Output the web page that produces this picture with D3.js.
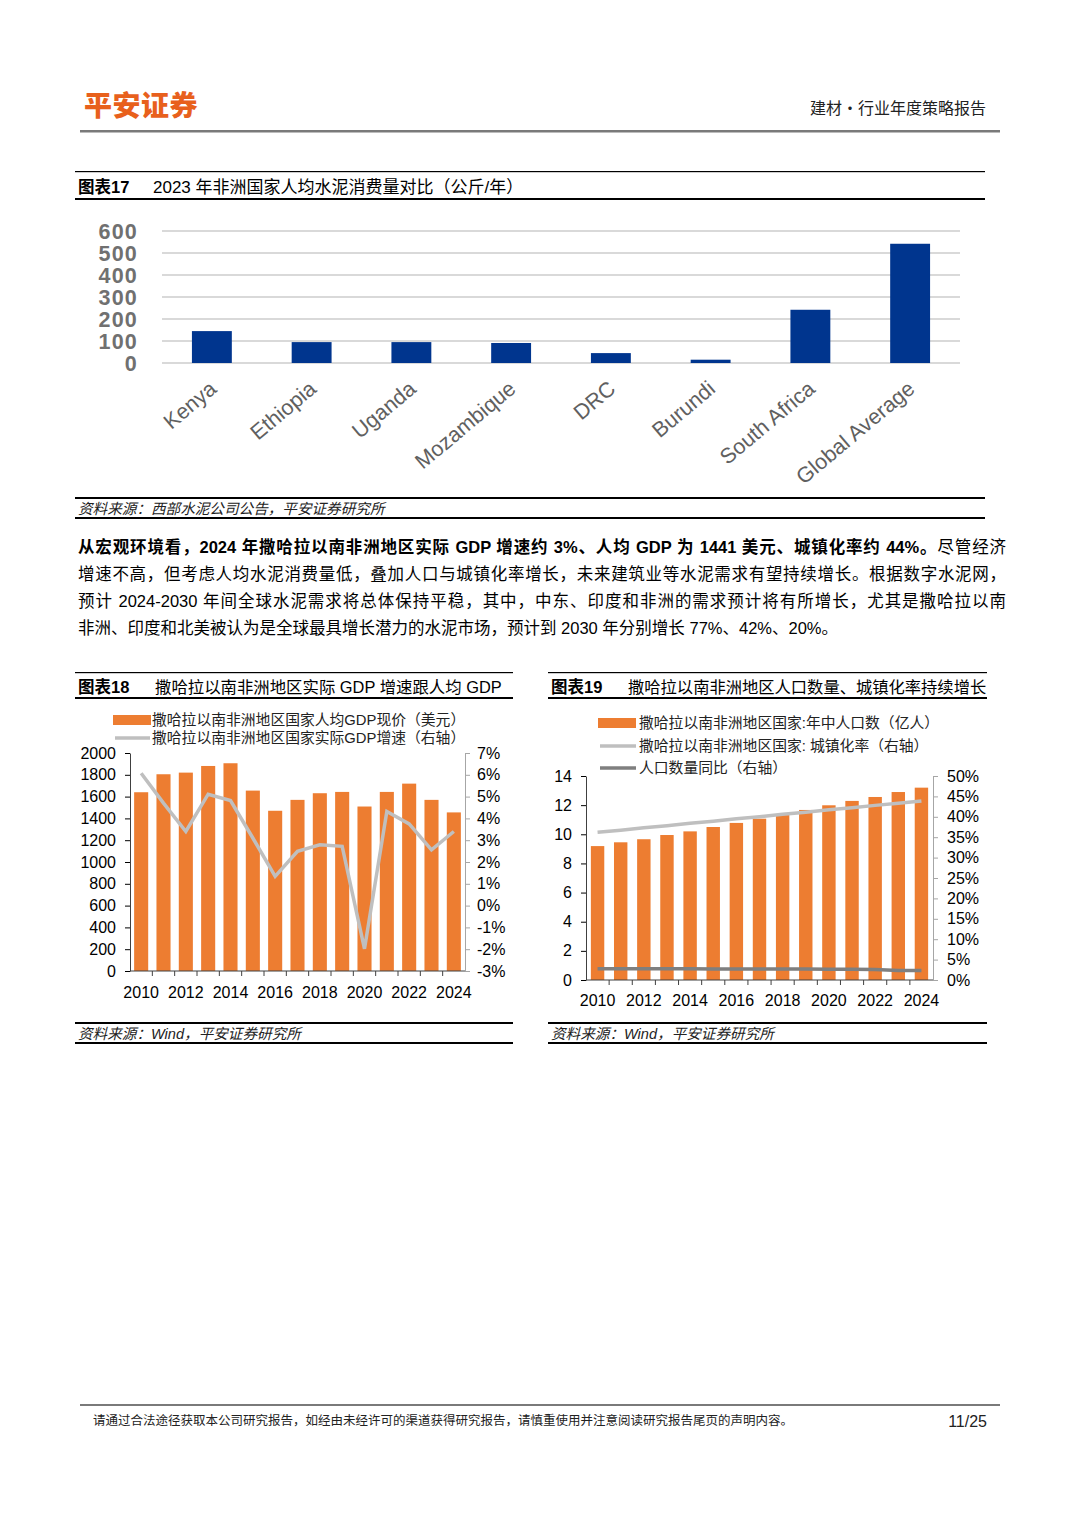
<!DOCTYPE html>
<html><head><meta charset="utf-8">
<script src="https://cdn.jsdelivr.net/npm/d3@7"></script>
<style>
html,body{margin:0;padding:0;background:#fff;}
body{width:1080px;height:1527px;position:relative;overflow:hidden;}
svg{position:absolute;left:0;top:0;}
.para{position:absolute;left:78px;width:928px;font-family:"Liberation Sans","Noto Sans CJK SC",sans-serif;font-size:16.5px;color:#000;text-align:justify;text-align-last:justify;white-space:nowrap;line-height:20px;}
.para.last{text-align-last:left;}
.para b{font-weight:bold;}
</style></head>
<body>
<div id="paras"></div>
<script>
// ---------- data ----------
const cats17 = ["Kenya","Ethiopia","Uganda","Mozambique","DRC","Burundi","South Africa","Global Average"];
const vals17 = [145, 95, 95, 91, 45, 15, 242, 542];
const ticks17 = [0,100,200,300,400,500,600];

const years = ["2010","2011","2012","2013","2014","2015","2016","2017","2018","2019","2020","2021","2022","2023","2024"];
const yearLabels = ["2010","2012","2014","2016","2018","2020","2022","2024"];
const gdpPerCap = [1640,1805,1820,1881,1906,1655,1470,1570,1631,1643,1509,1643,1719,1570,1455];
const gdpGrowth = [6.07,4.7,3.4,5.11,4.82,3.1,1.34,2.49,2.79,2.72,-1.98,4.32,3.75,2.56,3.4];
const ticks18L = [0,200,400,600,800,1000,1200,1400,1600,1800,2000];
const ticks18R = [-3,-2,-1,0,1,2,3,4,5,6,7];

const population = [9.19,9.45,9.66,9.95,10.2,10.5,10.78,11.07,11.35,11.67,11.99,12.29,12.56,12.9,13.2];
const urbanRate = [36.2,36.7,37.3,37.8,38.4,38.9,39.5,40.0,40.6,41.1,41.7,42.2,42.8,43.3,43.9];
const popYoY = [2.75,2.75,2.75,2.74,2.73,2.72,2.71,2.7,2.69,2.68,2.66,2.64,2.6,2.35,2.3];
const ticks19L = [0,2,4,6,8,10,12,14];
const ticks19R = [0,5,10,15,20,25,30,35,40,45,50];

const CN = '"Liberation Sans","Noto Sans CJK SC",sans-serif';
const ORANGE = "#ED7D31", NAVY = "#00358E";

const svg = d3.select("body").append("svg").attr("width",1080).attr("height",1527);

// ---------- header ----------
svg.append("text").attr("x",84).attr("y",116).attr("font-family",'"Noto Sans CJK SC",sans-serif')
  .attr("font-weight","900").attr("font-size",28).attr("letter-spacing",0.5).attr("fill","#E8601C").text("平安证券");
svg.append("text").attr("x",986).attr("y",114).attr("text-anchor","end").attr("font-family",'"Noto Sans CJK SC",sans-serif')
  .attr("font-size",16).attr("fill","#222").text("建材·行业年度策略报告");
svg.append("rect").attr("x",80).attr("y",130).attr("width",920).attr("height",2.5).attr("fill","#7a7a7a");

// helper for chart frame
function frame(x0,x1,yTop,yTitle,yHead,numLabel,title,titleX,tfs,ySrcTop,ySrcBot,src){
  svg.append("rect").attr("x",x0).attr("y",yTop).attr("width",x1-x0).attr("height",1.2).attr("fill","#000");
  svg.append("text").attr("x",x0+3).attr("y",yTitle).attr("font-family",CN).attr("font-size",16.5).attr("font-weight","bold").text(numLabel);
  svg.append("text").attr("x",titleX).attr("y",yTitle).attr("font-family",CN).attr("font-size",tfs).text(title);
  svg.append("rect").attr("x",x0).attr("y",yHead).attr("width",x1-x0).attr("height",2).attr("fill","#000");
  svg.append("rect").attr("x",x0).attr("y",ySrcTop).attr("width",x1-x0).attr("height",2).attr("fill","#000");
  svg.append("text").attr("x",x0+3).attr("y",ySrcTop+17).attr("font-family",CN).attr("font-size",14.6)
    .attr("font-style","italic").attr("fill","#222").text(src);
  svg.append("rect").attr("x",x0).attr("y",ySrcBot).attr("width",x1-x0).attr("height",2).attr("fill","#000");
}

// ---------- chart 17 ----------
frame(75,985,171,193,198,"图表17","2023 年非洲国家人均水泥消费量对比（公斤/年）",153,17,497,517,"资料来源：西部水泥公司公告，平安证券研究所");
{
  const x = d3.scaleBand().domain(cats17).range([162,960]).paddingInner(0.6).paddingOuter(0.3);
  const y = d3.scaleLinear().domain([0,600]).range([363,231]);
  const g = svg.append("g");
  g.selectAll("line.grid").data(ticks17).join("line").attr("x1",162).attr("x2",960)
    .attr("y1",d=>y(d)).attr("y2",d=>y(d)).attr("stroke","#d9d9d9").attr("stroke-width",2);
  g.selectAll("text.yt").data(ticks17).join("text").attr("x",138).attr("y",d=>y(d)+7.5)
    .attr("text-anchor","end").attr("font-family",CN).attr("font-weight","bold").attr("font-size",21.5)
    .attr("letter-spacing",1.2).attr("fill","#707070").text(d=>d);
  g.selectAll("rect.bar").data(vals17).join("rect")
    .attr("x",(d,i)=>x(cats17[i])).attr("width",x.bandwidth())
    .attr("y",d=>y(d)).attr("height",d=>y(0)-y(d)).attr("fill",NAVY);
  g.selectAll("text.xl").data(cats17).join("text")
    .attr("transform",d=>`translate(${x(d)+x.bandwidth()/2+6},${391}) rotate(-40)`)
    .attr("text-anchor","end").attr("font-family",CN).attr("font-size",21.5).attr("fill","#606060").text(d=>d);
}

// ---------- paragraph ----------
const paraLines = [
  ['<b>从宏观环境看，2024 年撒哈拉以南非洲地区实际 GDP 增速约 3%、人均 GDP 为 1441 美元、城镇化率约 44%。</b>尽管经济',552],
  ['增速不高，但考虑人均水泥消费量低，叠加人口与城镇化率增长，未来建筑业等水泥需求有望持续增长。根据数字水泥网，',579],
  ['预计 2024-2030 年间全球水泥需求将总体保持平稳，其中，中东、印度和非洲的需求预计将有所增长，尤其是撒哈拉以南',606],
  ['非洲、印度和北美被认为是全球最具增长潜力的水泥市场，预计到 2030 年分别增长 77%、42%、20%。',633]
];
d3.select("#paras").selectAll("div").data(paraLines).join("div")
  .attr("class",(d,i)=>i===paraLines.length-1?"para last":"para")
  .style("top",d=>(d[1]-15)+"px").html(d=>d[0]);

// ---------- chart 18 ----------
frame(75,513,672,693,697,"图表18","撒哈拉以南非洲地区实际 GDP 增速跟人均 GDP",155,16.4,1022,1042,"资料来源：Wind，平安证券研究所");
{
  const x = d3.scaleBand().domain(years).range([130,465]).paddingInner(0.37).paddingOuter(0.185);
  const yL = d3.scaleLinear().domain([0,2000]).range([971,753]);
  const yR = d3.scaleLinear().domain([-3,7]).range([971,753]);
  const g = svg.append("g");
  // legend
  g.append("rect").attr("x",113).attr("y",715).attr("width",38).attr("height",10).attr("fill",ORANGE);
  g.append("text").attr("x",152).attr("y",725).attr("font-family",CN).attr("font-size",14.8).attr("fill","#222").text("撒哈拉以南非洲地区国家人均GDP现价（美元）");
  g.append("line").attr("x1",115).attr("x2",150).attr("y1",738).attr("y2",738).attr("stroke","#BFBFBF").attr("stroke-width",3.5);
  g.append("text").attr("x",152).attr("y",743).attr("font-family",CN).attr("font-size",14.8).attr("fill","#222").text("撒哈拉以南非洲地区国家实际GDP增速（右轴）");
  // bars
  g.selectAll("rect.bar").data(gdpPerCap).join("rect")
    .attr("x",(d,i)=>x(years[i])).attr("width",x.bandwidth())
    .attr("y",d=>yL(d)).attr("height",d=>yL(0)-yL(d)).attr("fill",ORANGE);
  // line
  const line = d3.line().x((d,i)=>x(years[i])+x.bandwidth()/2).y(d=>yR(d));
  g.append("path").datum(gdpGrowth).attr("d",line).attr("fill","none").attr("stroke","#BFBFBF").attr("stroke-width",3.5).attr("stroke-linejoin","miter");
  // axes
  const aL = g.append("g").attr("transform","translate(130,0)")
    .call(d3.axisLeft(yL).tickValues(ticks18L).tickSize(5).tickSizeOuter(0).tickFormat(d3.format("d")));
  const aR = g.append("g").attr("transform","translate(465,0)")
    .call(d3.axisRight(yR).tickValues(ticks18R).tickSize(5).tickSizeOuter(0).tickFormat(d=>d+"%"));
  aR.select(".domain").attr("stroke","#a6a6a6");
  aR.selectAll(".tick line").attr("stroke","#a6a6a6");
  aL.select(".domain").attr("stroke","#404040");
  const xb = g.append("g").attr("transform","translate(0,971)");
  xb.append("line").attr("x1",130).attr("x2",465).attr("stroke","#404040");
  xb.selectAll("line.tk").data(years.slice(1)).join("line").attr("x1",d=>x(d)-x.step()*x.paddingInner()/2).attr("x2",d=>x(d)-x.step()*x.paddingInner()/2)
    .attr("y1",0).attr("y2",5).attr("stroke","#404040");
  xb.selectAll("text").data(yearLabels).join("text").attr("x",d=>x(d)+x.bandwidth()/2).attr("y",27)
    .attr("text-anchor","middle").attr("font-family",CN).attr("font-size",16).attr("fill","#000").text(d=>d);
  [aL,aR].forEach(a=>a.selectAll(".tick text").attr("font-family",CN).attr("font-size",16).attr("fill","#000"));
  aL.selectAll(".tick text").attr("x",-14);
  aR.selectAll(".tick text").attr("x",12);
}

// ---------- chart 19 ----------
frame(548,987,672,693,697,"图表19","撒哈拉以南非洲地区人口数量、城镇化率持续增长",628,16.3,1022,1042,"资料来源：Wind，平安证券研究所");
{
  const x = d3.scaleBand().domain(years).range([586,933]).paddingInner(0.42).paddingOuter(0.21);
  const yL = d3.scaleLinear().domain([0,14]).range([980,776]);
  const yR = d3.scaleLinear().domain([0,50]).range([980,776]);
  const g = svg.append("g");
  // legend
  g.append("rect").attr("x",598).attr("y",718).attr("width",38).attr("height",10).attr("fill",ORANGE);
  g.append("text").attr("x",639).attr("y",728).attr("font-family",CN).attr("font-size",14.8).attr("fill","#222").text("撒哈拉以南非洲地区国家:年中人口数（亿人）");
  g.append("line").attr("x1",600).attr("x2",636).attr("y1",746).attr("y2",746).attr("stroke","#BFBFBF").attr("stroke-width",3.5);
  g.append("text").attr("x",639).attr("y",751).attr("font-family",CN).attr("font-size",14.8).attr("fill","#222").text("撒哈拉以南非洲地区国家:  城镇化率（右轴）");
  g.append("line").attr("x1",600).attr("x2",636).attr("y1",768).attr("y2",768).attr("stroke","#7F7F7F").attr("stroke-width",3.5);
  g.append("text").attr("x",639).attr("y",773).attr("font-family",CN).attr("font-size",14.8).attr("fill","#222").text("人口数量同比（右轴）");
  // bars
  g.selectAll("rect.bar").data(population).join("rect")
    .attr("x",(d,i)=>x(years[i])).attr("width",x.bandwidth())
    .attr("y",d=>yL(d)).attr("height",d=>yL(0)-yL(d)).attr("fill",ORANGE);
  const line = d3.line().x((d,i)=>x(years[i])+x.bandwidth()/2).y(d=>yR(d));
  g.append("path").datum(urbanRate).attr("d",line).attr("fill","none").attr("stroke","#BFBFBF").attr("stroke-width",3.5);
  g.append("path").datum(popYoY).attr("d",line).attr("fill","none").attr("stroke","#7F7F7F").attr("stroke-width",3.5);
  const aL = g.append("g").attr("transform","translate(586,0)")
    .call(d3.axisLeft(yL).tickValues(ticks19L).tickSize(5).tickSizeOuter(0));
  const aR = g.append("g").attr("transform","translate(933,0)")
    .call(d3.axisRight(yR).tickValues(ticks19R).tickSize(5).tickSizeOuter(0).tickFormat(d=>d+"%"));
  aR.select(".domain").attr("stroke","#a6a6a6");
  aR.selectAll(".tick line").attr("stroke","#a6a6a6");
  aL.select(".domain").attr("stroke","#404040");
  const xb = g.append("g").attr("transform","translate(0,980)");
  xb.append("line").attr("x1",586).attr("x2",933).attr("stroke","#404040");
  xb.selectAll("line.tk").data(years.slice(1)).join("line").attr("x1",d=>x(d)-x.step()*x.paddingInner()/2).attr("x2",d=>x(d)-x.step()*x.paddingInner()/2)
    .attr("y1",0).attr("y2",5).attr("stroke","#404040");
  xb.selectAll("text").data(yearLabels).join("text").attr("x",d=>x(d)+x.bandwidth()/2).attr("y",26)
    .attr("text-anchor","middle").attr("font-family",CN).attr("font-size",16).attr("fill","#000").text(d=>d);
  [aL,aR].forEach(a=>a.selectAll(".tick text").attr("font-family",CN).attr("font-size",16).attr("fill","#000"));
  aL.selectAll(".tick text").attr("x",-14);
  aR.selectAll(".tick text").attr("x",14);
}

// ---------- footer ----------
svg.append("rect").attr("x",80).attr("y",1404).attr("width",920).attr("height",2).attr("fill","#7a7a7a");
svg.append("text").attr("x",93).attr("y",1425).attr("font-family",'"Noto Sans CJK SC",sans-serif').attr("font-size",12.5).attr("fill","#222")
  .text("请通过合法途径获取本公司研究报告，如经由未经许可的渠道获得研究报告，请慎重使用并注意阅读研究报告尾页的声明内容。");
svg.append("text").attr("x",987).attr("y",1427).attr("text-anchor","end").attr("font-family",CN).attr("font-size",16).attr("fill","#222").text("11/25");
</script>
</body></html>
